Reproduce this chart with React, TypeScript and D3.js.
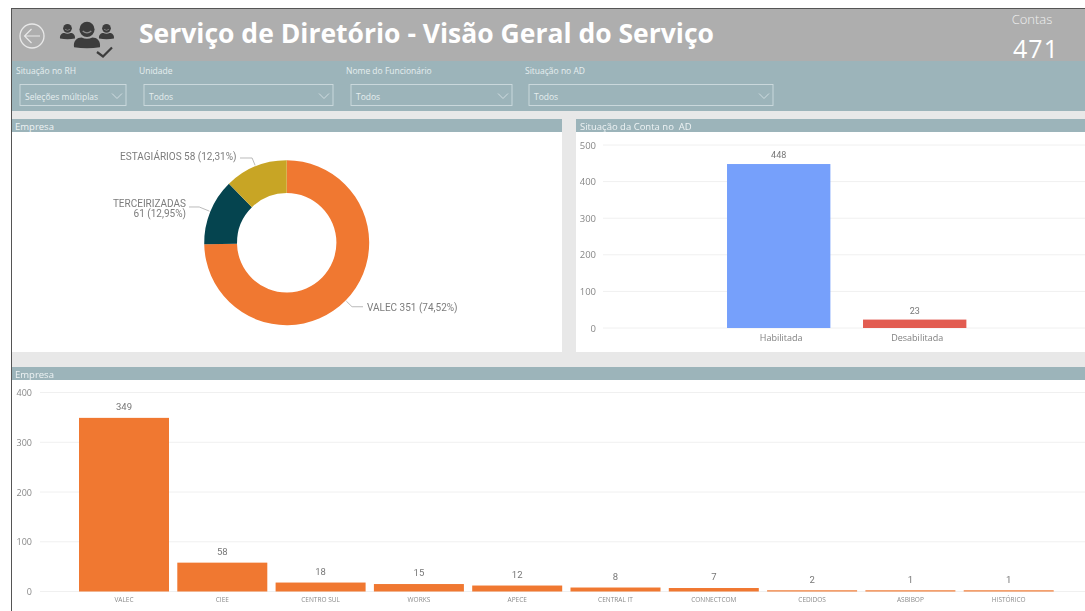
import React from "react";
import * as d3 from "d3";

const WIDTH = 1085;
const HEIGHT = 611;

const donutNames = ["VALEC", "TERCEIRIZADAS", "ESTAGIÁRIOS"];
const donutValues = [351, 61, 58];
const donutShares = ["74,52%", "12,95%", "12,31%"];
const donutColors = ["#f07831", "#05444f", "#c8a525"];

const statusNames = ["Habilitada", "Desabilitada"];
const statusValues = [448, 23];
const statusColors = ["#76a0fb", "#e25c51"];
const statusTicks = [0, 100, 200, 300, 400, 500];

const companyNames = ["VALEC", "CIEE", "CENTRO SUL", "WORKS", "APECE", "CENTRAL IT", "CONNECTCOM", "CEDIDOS", "ASBIBOP", "HISTÓRICO"];
const companyValues = [349, 58, 18, 15, 12, 8, 7, 2, 1, 1];
const companyTicks = [0, 100, 200, 300, 400];

const filterLabels = ["Situação no RH", "Unidade", "Nome do Funcionário", "Situação no AD"];
const filterValues = ["Seleções múltiplas", "Todos", "Todos", "Todos"];

const UI = "'Open Sans', 'Noto Sans', sans-serif";
const DIN = "Roboto, 'Liberation Sans', sans-serif";
const TEAL = "#9cb4ba";
const HEADER = "#aeaeae";

const filterBoxes = [
  { x: 20, w: 106, lx: 16 },
  { x: 144, w: 189, lx: 139 },
  { x: 351, w: 161, lx: 346 },
  { x: 529, w: 244, lx: 525 },
];

function Chevron({ x, y }: { x: number; y: number }) {
  return <path d={`M${x - 5},${y - 2.5}L${x},${y + 2.5}L${x + 5},${y - 2.5}`} fill="none" stroke="#d5e0e3" strokeWidth={0.9} />;
}

function Person({ x, y, s }: { x: number; y: number; s: number }) {
  return (
    <g transform={`translate(${x},${y}) scale(${s})`}>
      <circle cx={0} cy={-7.5} r={7} fill="#3c3c3c" />
      <path d="M-4,-6 Q0,-2.5 4,-6" fill="none" stroke="#8c8c8c" strokeWidth={1.2} />
      <path d="M-12,9 C-13,3 -9,0 -5,0 Q0,2.5 5,0 C9,0 13,3 12,9 Q0,11 -12,9 Z" fill="#3c3c3c" />
    </g>
  );
}

export default function App() {
  // donut
  const cx = 286.7;
  const cy = 242.7;
  const outer = 82.5;
  const inner = 49.7;
  const pie = d3.pie<number>().sort(null).value((d) => d);
  const arcs = pie(donutValues);
  const arc = d3.arc<d3.PieArcDatum<number>>().innerRadius(inner).outerRadius(outer);
  const midPoint = (a: d3.PieArcDatum<number>, r: number) => {
    const m = (a.startAngle + a.endAngle) / 2;
    return [cx + Math.sin(m) * r, cy - Math.cos(m) * r];
  };

  // status chart
  const sy = d3.scaleLinear().domain([0, 500]).range([328, 145]);
  const sx = d3.scaleBand<string>().domain(statusNames).range([710.7, 982.7]).paddingInner(0.24).paddingOuter(0.12);

  // company chart
  const cyScale = d3.scaleLinear().domain([0, 400]).range([591.5, 392.5]);
  const cxScale = d3.scaleBand<string>().domain(companyNames).range([74.85, 1057.85]).paddingInner(0.0844).paddingOuter(0.0422);

  const leaderEnds = [
    { elbowR: outer + 9, endX: 363, labelX: 367, anchor: "start" },
    { elbowR: outer + 12, endX: 189, labelX: 186, anchor: "end" },
    { elbowR: outer + 9, endX: 240, labelX: 236.5, anchor: "end" },
  ];

  return (
    <svg width={WIDTH} height={HEIGHT} viewBox={`0 0 ${WIDTH} ${HEIGHT}`} style={{ position: "absolute", left: 0, top: 0, display: "block", background: "#fff" }}>
      <defs>
        <filter id="soft" x="0" y="0" width="100%" height="100%" filterUnits="userSpaceOnUse" primitiveUnits="userSpaceOnUse">
          <feGaussianBlur stdDeviation="0.4" />
        </filter>
      </defs>
      <g filter="url(#soft)" style={{ filter: "blur(0.4px)" }}>
      {/* page frame */}
      <rect x={0} y={0} width={WIDTH} height={HEIGHT} fill="#ffffff" />
      <rect x={12} y={9} width={WIDTH - 12} height={HEIGHT - 9} fill="#e8e8e8" />
      <line x1={11.5} y1={8} x2={11.5} y2={HEIGHT} stroke="#555" strokeWidth={1} />
      <line x1={11} y1={8.5} x2={WIDTH} y2={8.5} stroke="#555" strokeWidth={1} />

      {/* header */}
      <rect x={12} y={9} width={WIDTH - 12} height={52} fill={HEADER} />
      <circle cx={32} cy={36} r={12} fill="none" stroke="#e8e8e8" strokeWidth={1.3} />
      <path d="M40,36H25M31.5,29L24.5,36L31.5,43" fill="none" stroke="#e8e8e8" strokeWidth={1.2} />
      <Person x={67.5} y={33} s={0.62} />
      <Person x={106.5} y={33} s={0.62} />
      <Person x={87} y={37.5} s={1.08} />
      <path d="M97,52L103,56.5L112,47.5" fill="none" stroke="#3c3c3c" strokeWidth={2.2} />
      <text x={139} y={43} fontFamily={UI} fontWeight={700} fontSize={26.5} fill="#ffffff">Serviço de Diretório - Visão Geral do Serviço</text>
      <text x={1032} y={24} textAnchor="middle" fontFamily={UI} fontWeight={300} fontSize={13} fill="#f0f0f0">Contas</text>
      <text x={1036} y={58} textAnchor="middle" fontFamily={UI} fontWeight={400} fontSize={25} letterSpacing={1} fill="#ffffff">471</text>

      {/* filters */}
      <rect x={12} y={61} width={WIDTH - 12} height={50} fill={TEAL} />
      {filterLabels.map((label, i) => (
        <text key={label} x={filterBoxes[i].lx} y={74} fontFamily={UI} fontSize={8.5} fill="#e6eeef">{label}</text>
      ))}
      {filterValues.map((value, i) => {
        const b = filterBoxes[i];
        return (
          <g key={i}>
            <rect x={b.x} y={84.5} width={b.w} height={21} fill="none" stroke="#cfdcdf" strokeWidth={0.9} />
            <text x={b.x + 5} y={100} fontFamily={UI} fontSize={8.5} fill="#e6eeef">{value}</text>
            <Chevron x={b.x + b.w - 9} y={96} />
          </g>
        );
      })}

      {/* donut panel */}
      <rect x={12} y={119} width={550} height={13} fill={TEAL} />
      <text x={15} y={130} fontFamily={UI} fontSize={9.5} fill="#eef3f4">Empresa</text>
      <rect x={12} y={132} width={550} height={220} fill="#ffffff" />
      <g transform={`translate(${cx},${cy})`}>
        {arcs.map((a, i) => (
          <path key={donutNames[i]} d={arc(a) ?? ""} fill={donutColors[i]} />
        ))}
      </g>
      {arcs.map((a, i) => {
        const [x0, y0] = midPoint(a, outer + 1);
        const [x1, y1] = midPoint(a, leaderEnds[i].elbowR);
        return <path key={i} d={`M${x0},${y0}L${x1},${y1}L${leaderEnds[i].endX},${y1}`} fill="none" stroke="#a8a8a8" strokeWidth={0.8} />;
      })}
      <g fontFamily={DIN} fontSize={10} fill="#7c7c7c">
        <text x={leaderEnds[0].labelX} y={311} textAnchor="start">{`${donutNames[0]} ${donutValues[0]} (${donutShares[0]})`}</text>
        <text x={leaderEnds[1].labelX} y={206.5} textAnchor="end">{donutNames[1]}</text>
        <text x={leaderEnds[1].labelX} y={216.5} textAnchor="end">{`${donutValues[1]} (${donutShares[1]})`}</text>
        <text x={leaderEnds[2].labelX} y={160} textAnchor="end">{`${donutNames[2]} ${donutValues[2]} (${donutShares[2]})`}</text>
      </g>

      {/* status panel */}
      <rect x={576} y={119} width={WIDTH - 576} height={13} fill={TEAL} />
      <text x={580} y={130} fontFamily={UI} fontSize={9.5} fill="#eef3f4" xmlSpace="preserve">Situação da Conta no  AD</text>
      <rect x={576} y={132} width={WIDTH - 576} height={220} fill="#ffffff" />
      {statusTicks.map((t) => (
        <g key={t}>
          <line x1={603} x2={WIDTH} y1={sy(t)} y2={sy(t)} stroke="#f0f0f0" strokeWidth={1} />
          <text x={596} y={sy(t) + 3.5} textAnchor="end" fontFamily={UI} fontSize={9.5} fill="#888">{t}</text>
        </g>
      ))}
      {statusNames.map((n, i) => (
        <g key={n}>
          <rect x={sx(n)} y={sy(statusValues[i])} width={sx.bandwidth()} height={sy(0) - sy(statusValues[i])} fill={statusColors[i]} />
          <text x={(sx(n) ?? 0) + sx.bandwidth() / 2} y={sy(statusValues[i]) - 6} textAnchor="middle" fontFamily={DIN} fontSize={9} fill="#777">{statusValues[i]}</text>
          <text x={(sx(n) ?? 0) + sx.bandwidth() / 2 + 2.5} y={341} textAnchor="middle" fontFamily={UI} fontSize={9} fill="#808080">{n}</text>
        </g>
      ))}

      {/* company panel */}
      <rect x={12} y={367} width={WIDTH - 12} height={13} fill={TEAL} />
      <text x={15} y={378} fontFamily={UI} fontSize={9.5} fill="#eef3f4">Empresa</text>
      <rect x={12} y={380} width={WIDTH - 12} height={HEIGHT - 380} fill="#ffffff" />
      {companyTicks.map((t) => (
        <g key={t}>
          <line x1={40} x2={WIDTH} y1={cyScale(t)} y2={cyScale(t)} stroke="#f0f0f0" strokeWidth={1} />
          <text x={32} y={cyScale(t) + 3.5} textAnchor="end" fontFamily={UI} fontSize={9} fill="#888">{t}</text>
        </g>
      ))}
      {companyNames.map((n, i) => {
        const h = Math.max(cyScale(0) - cyScale(companyValues[i]), 1.2);
        return (
          <g key={n}>
            <rect x={cxScale(n)} y={cyScale(0) - h} width={cxScale.bandwidth()} height={h} fill="#f07831" />
            <text x={(cxScale(n) ?? 0) + cxScale.bandwidth() / 2} y={cyScale(companyValues[i]) - 8} textAnchor="middle" fontFamily={DIN} fontSize={9.5} fill="#777">{companyValues[i]}</text>
            <text x={(cxScale(n) ?? 0) + cxScale.bandwidth() / 2} y={602} textAnchor="middle" fontFamily={UI} fontSize={6.5} fill="#8a8a8a">{n}</text>
          </g>
        );
      })}
      </g>
    </svg>
  );
}
